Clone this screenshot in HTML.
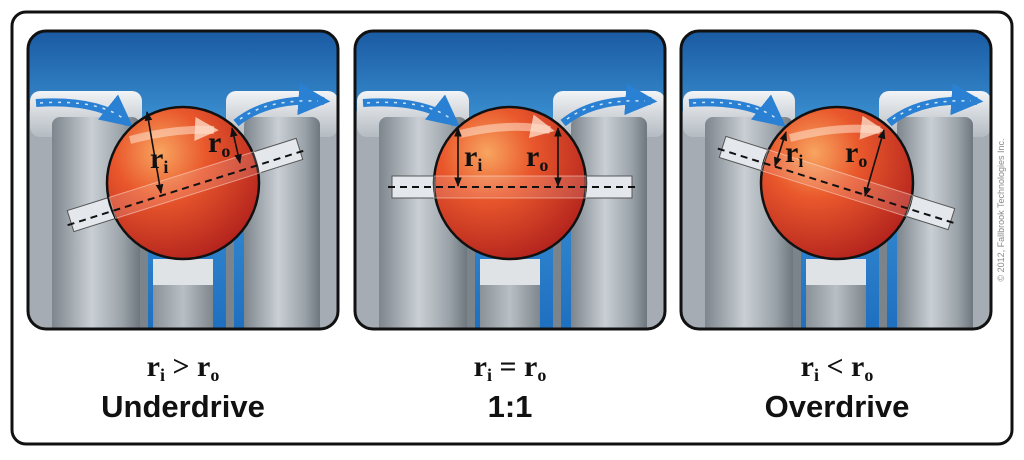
<!DOCTYPE html>
<html><head><meta charset="utf-8"><style>
html,body{margin:0;padding:0;background:#fff;width:1024px;height:460px;overflow:hidden}
</style></head><body>
<svg width="1024" height="460" viewBox="0 0 1024 460" xmlns="http://www.w3.org/2000/svg">
<defs>
<linearGradient id="sky" x1="0" y1="0" x2="0" y2="1">
<stop offset="0" stop-color="#1a5aa2"/><stop offset="0.35" stop-color="#3f98d8"/><stop offset="1" stop-color="#1f6fc0"/></linearGradient>
<linearGradient id="col" x1="0" y1="0" x2="1" y2="0">
<stop offset="0" stop-color="#7d858d"/><stop offset="0.45" stop-color="#c9cfd4"/><stop offset="0.8" stop-color="#9aa2a9"/><stop offset="1" stop-color="#6e767e"/></linearGradient>
<linearGradient id="cap" x1="0" y1="0" x2="0" y2="1">
<stop offset="0" stop-color="#f2f4f6"/><stop offset="1" stop-color="#b4bbc2"/></linearGradient>
<linearGradient id="ped" x1="0" y1="0" x2="1" y2="0">
<stop offset="0" stop-color="#8a9299"/><stop offset="0.5" stop-color="#b8bfc5"/><stop offset="1" stop-color="#7f878e"/></linearGradient>
<radialGradient id="ball" cx="0.35" cy="0.3" r="0.75">
<stop offset="0" stop-color="#f8a560"/><stop offset="0.4" stop-color="#e9582c"/><stop offset="1" stop-color="#b3231d"/></radialGradient>
<clipPath id="pc"><rect x="0" y="0" width="310" height="298" rx="18"/></clipPath>
<marker id="ah" viewBox="0 0 10 10" refX="8" refY="5" markerWidth="4" markerHeight="4" orient="auto"><path d="M0,0 L10,5 L0,10 z" fill="#2a80d2"/></marker>
<marker id="wh" viewBox="0 0 10 10" refX="8" refY="5" markerWidth="3" markerHeight="3" orient="auto"><path d="M0,0 L10,5 L0,10 z" fill="rgba(255,225,205,0.75)"/></marker>
<marker id="bh" viewBox="0 0 10 10" refX="9" refY="5" markerWidth="6" markerHeight="6" orient="auto-start-reverse"><path d="M0,1 L10,5 L0,9 z" fill="#111"/></marker>
<g id="bg">
<g clip-path="url(#pc)">
<rect x="0" y="0" width="310" height="298" fill="url(#sky)"/>
<rect x="0" y="80" width="30" height="218" fill="#a5acb3"/>
<rect x="2" y="60" width="112" height="46" rx="10" fill="url(#cap)"/>
<rect x="24" y="86" width="88" height="220" rx="8" fill="url(#col)"/>
<rect x="112" y="120" width="8" height="180" fill="#7c848b"/>
<rect x="282" y="80" width="30" height="218" fill="#a5acb3"/>
<rect x="198" y="60" width="112" height="46" rx="10" fill="url(#cap)"/>
<rect x="216" y="86" width="76" height="220" rx="8" fill="url(#col)"/>
<rect x="198" y="120" width="8" height="180" fill="#7c848b"/>
<rect x="125" y="228" width="60" height="80" fill="url(#ped)"/>
<rect x="125" y="228" width="60" height="26" fill="#dfe3e6"/>
<path d="M8,72 Q70,68 100,92" stroke="#2a80d2" stroke-width="8" fill="none" marker-end="url(#ah)"/>
<path d="M12,72 Q70,68 96,88" stroke="#cfe6fa" stroke-width="1.5" stroke-dasharray="3 6" fill="none"/>
<path d="M208,92 Q240,66 296,70" stroke="#2a80d2" stroke-width="8" fill="none" marker-end="url(#ah)"/>
<path d="M212,88 Q240,68 290,70" stroke="#cfe6fa" stroke-width="1.5" stroke-dasharray="3 6" fill="none"/>
</g>
<rect x="0" y="0" width="310" height="298" rx="18" fill="none" stroke="#111" stroke-width="3"/>
</g>
</defs>
<rect x="12" y="12" width="1000" height="432" rx="14" fill="#fff" stroke="#111" stroke-width="3"/>

<use href="#bg" x="28" y="31"/>
<use href="#bg" x="355" y="31"/>
<use href="#bg" x="681" y="31"/>

<!-- Panel 1 -->
<g transform="translate(185,185) rotate(-17.5)"><rect x="-120" y="-11" width="240" height="22" fill="#e4e8ec" stroke="#555" stroke-width="1"/></g>
<circle cx="183" cy="183" r="76" fill="url(#ball)" stroke="#111" stroke-width="2.5"/>
<path d="M130,140 Q175,128 214,130" stroke="rgba(255,225,205,0.55)" stroke-width="8" fill="none" marker-end="url(#wh)"/>
<g transform="translate(185,185) rotate(-17.5)"><rect x="-76" y="-11" width="152" height="22" fill="rgba(255,255,255,0.15)" stroke="rgba(255,230,220,0.5)" stroke-width="1"/><line x1="-124" y1="3" x2="124" y2="3" stroke="#111" stroke-width="2" stroke-dasharray="7 5"/></g>
<line x1="147" y1="112" x2="161" y2="193" stroke="#111" stroke-width="1.6" marker-start="url(#bh)" marker-end="url(#bh)"/>
<line x1="232" y1="128" x2="240" y2="163" stroke="#111" stroke-width="1.6" marker-start="url(#bh)" marker-end="url(#bh)"/>
<text x="150" y="168" font-family="Liberation Serif,serif" font-weight="bold" font-size="30" fill="#111">r<tspan font-size="18" dy="5">i</tspan></text>
<text x="208" y="152" font-family="Liberation Serif,serif" font-weight="bold" font-size="30" fill="#111">r<tspan font-size="18" dy="5">o</tspan></text>

<!-- Panel 2 -->
<rect x="392" y="176" width="240" height="22" fill="#e4e8ec" stroke="#555" stroke-width="1"/>
<circle cx="510" cy="183" r="76" fill="url(#ball)" stroke="#111" stroke-width="2.5"/>
<path d="M460,134 Q510,122 550,130" stroke="rgba(255,225,205,0.55)" stroke-width="8" fill="none" marker-end="url(#wh)"/>
<rect x="434" y="176" width="152" height="22" fill="rgba(255,255,255,0.15)" stroke="rgba(255,230,220,0.5)" stroke-width="1"/>
<line x1="388" y1="187" x2="636" y2="187" stroke="#111" stroke-width="2" stroke-dasharray="7 5"/>
<line x1="458" y1="128" x2="458" y2="186" stroke="#111" stroke-width="1.6" marker-start="url(#bh)" marker-end="url(#bh)"/>
<line x1="558" y1="128" x2="558" y2="186" stroke="#111" stroke-width="1.6" marker-start="url(#bh)" marker-end="url(#bh)"/>
<text x="464" y="166" font-family="Liberation Serif,serif" font-weight="bold" font-size="30" fill="#111">r<tspan font-size="18" dy="5">i</tspan></text>
<text x="526" y="166" font-family="Liberation Serif,serif" font-weight="bold" font-size="30" fill="#111">r<tspan font-size="18" dy="5">o</tspan></text>

<!-- Panel 3 -->
<g transform="translate(837,183) rotate(17.5)"><rect x="-120" y="-11" width="240" height="22" fill="#e4e8ec" stroke="#555" stroke-width="1"/></g>
<circle cx="837" cy="183" r="76" fill="url(#ball)" stroke="#111" stroke-width="2.5"/>
<path d="M790,138 Q840,125 880,130" stroke="rgba(255,225,205,0.55)" stroke-width="8" fill="none" marker-end="url(#wh)"/>
<g transform="translate(837,183) rotate(17.5)"><rect x="-76" y="-11" width="152" height="22" fill="rgba(255,255,255,0.15)" stroke="rgba(255,230,220,0.5)" stroke-width="1"/><line x1="-124" y1="3" x2="124" y2="3" stroke="#111" stroke-width="2" stroke-dasharray="7 5"/></g>
<line x1="786" y1="132" x2="775" y2="166" stroke="#111" stroke-width="1.6" marker-start="url(#bh)" marker-end="url(#bh)"/>
<line x1="884" y1="130" x2="865" y2="196" stroke="#111" stroke-width="1.6" marker-start="url(#bh)" marker-end="url(#bh)"/>
<text x="785" y="162" font-family="Liberation Serif,serif" font-weight="bold" font-size="30" fill="#111">r<tspan font-size="18" dy="5">i</tspan></text>
<text x="845" y="162" font-family="Liberation Serif,serif" font-weight="bold" font-size="30" fill="#111">r<tspan font-size="18" dy="5">o</tspan></text>

<!-- Captions -->
<g font-family="Liberation Serif,serif" font-weight="bold" font-size="30" fill="#111" text-anchor="middle">
<text x="183" y="376">r<tspan font-size="18" dy="5">i</tspan><tspan dy="-5"> &gt; r</tspan><tspan font-size="18" dy="5">o</tspan></text>
<text x="510" y="376">r<tspan font-size="18" dy="5">i</tspan><tspan dy="-5"> = r</tspan><tspan font-size="18" dy="5">o</tspan></text>
<text x="837" y="376">r<tspan font-size="18" dy="5">i</tspan><tspan dy="-5"> &lt; r</tspan><tspan font-size="18" dy="5">o</tspan></text>
</g>
<g font-family="Liberation Sans,sans-serif" font-weight="bold" font-size="31" fill="#111" text-anchor="middle">
<text x="183" y="417">Underdrive</text>
<text x="510" y="417">1:1</text>
<text x="837" y="417">Overdrive</text>
</g>
<text transform="translate(1004,210) rotate(-90)" font-family="Liberation Sans,sans-serif" font-size="9" fill="#888" text-anchor="middle">© 2012, Fallbrook Technologies Inc.</text>
</svg>
</body></html>
